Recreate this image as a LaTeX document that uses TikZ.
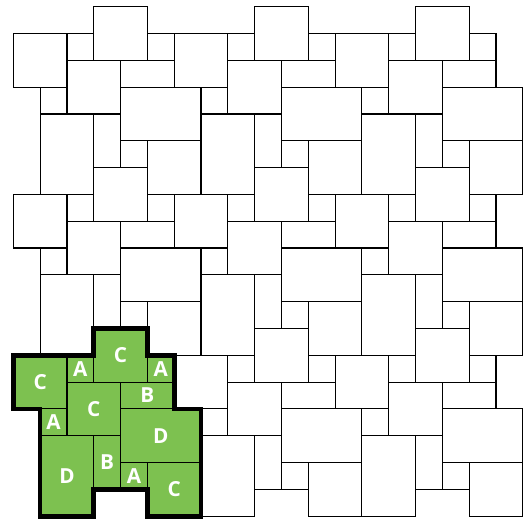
\documentclass[tikz,border=0pt]{standalone}
\usepackage{fontspec}
\setsansfont{Open Sans}
\usepackage{tikz}

\definecolor{paverGreen}{RGB}{125,193,80}

% one repeating block of the paving (x/y/width/height/size)
\def\paverblock{3/0/2/2/C, 2/1/1/1/A, 5/1/1/1/A, 0/1/2/2/C,
  4/2/2/1/B, 2/2/2/2/C, 1/3/1/1/A, 4/3/3/2/D,
  1/4/2/3/D, 3/4/1/2/B, 4/5/1/1/A, 5/5/2/2/C}

\begin{document}
\begin{tikzpicture}[
    x=1cm, y=-1cm,
    paver/.style={draw=black, fill=white, line width=1.2pt},
    greenpaver/.style={draw=black, fill=paverGreen, line width=1.2pt},
    outline/.style={draw=black, line width=5pt, line join=miter},
    lbl/.style={text=white, font=\sffamily\bfseries\fontsize{22}{24}\selectfont},
]
\useasboundingbox (-0.497,-0.249) rectangle (19.082,19.108);

% --- whole paving, only stones that lie fully in the square ---
\foreach \a in {0,6,12,18} {
  \foreach \b in {0,6,12,18} {
    \foreach \x/\y/\w/\h/\l in \paverblock {
      \pgfmathtruncatemacro{\xe}{\x+\a+\w}
      \pgfmathtruncatemacro{\ye}{\y+\b+\h}
      \ifnum\xe<20 \ifnum\ye<20
        \draw[paver] (\x+\a,\y+\b) rectangle (\xe,\ye);
      \fi\fi
    }
  }
}

% --- highlighted block ---
\begin{scope}[shift={(0,12)}]
  \foreach \x/\y/\w/\h/\l [count=\i] in \paverblock {
    \draw[greenpaver] (\x,\y) rectangle (\x+\w,\y+\h);
    \node[lbl] (lab\i) at (\x+\w/2,\y+\h/2) {\l};
  }
  \draw[outline] (3,0) -- (5,0) -- (5,1) -- (6,1) -- (6,3) -- (7,3)
    -- (7,7) -- (5,7) -- (5,6) -- (3,6) -- (3,7) -- (1,7) -- (1,3)
    -- (0,3) -- (0,1) -- (3,1) -- cycle;
\end{scope}

\end{tikzpicture}
\end{document}
